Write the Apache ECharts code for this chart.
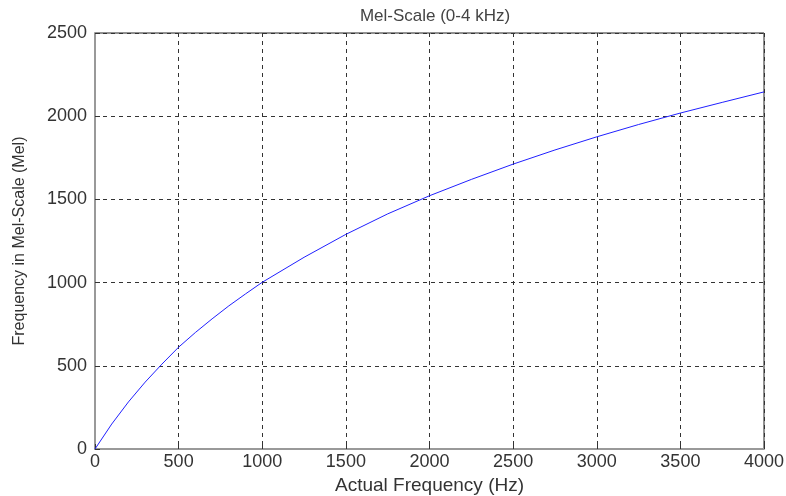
<!DOCTYPE html>
<html>
<head>
<meta charset="utf-8">
<script src="https://cdn.jsdelivr.net/npm/echarts@6/dist/echarts.min.js"></script>
<style>html,body{margin:0;padding:0;background:#fff}#c{width:786px;height:496px}</style>
</head>
<body>
<div id="c"></div>
<script>
const freqHz = [0, 100, 200, 300, 400, 500, 600, 700, 800, 900, 1000, 1250, 1500, 1750, 2000, 2250, 2500, 2750, 3000, 3250, 3500, 3750, 4000];
const melValues = [0, 150, 283, 402, 510, 612, 700, 782, 860, 932, 1002, 1152, 1290, 1413, 1522, 1620, 1712, 1797, 1876, 1950, 2019, 2083, 2146];
const xTicks = [0, 500, 1000, 1500, 2000, 2500, 3000, 3500, 4000];
const yTicks = [0, 500, 1000, 1500, 2000, 2500];

const chart = echarts.init(document.getElementById('c'), null, {renderer: 'canvas'});
const font = 'Liberation Sans, Arial, sans-serif';
chart.setOption({
  animation: false,
  backgroundColor: '#fff',
  title: {
    text: 'Mel-Scale (0-4 kHz)',
    left: 430, top: 3, textAlign: 'center',
    textStyle: {fontFamily: font, fontSize: 17, fontWeight: 'normal', color: '#444'}
  },
  grid: {left: 95, right: 22, top: 33, bottom: 47, show: true, borderColor: '#222', borderWidth: 1, backgroundColor: '#fff', containLabel: false, outerBoundsMode: 'none'},
  xAxis: {
    type: 'value', min: xTicks[0], max: xTicks[xTicks.length - 1], interval: 500,
    name: 'Actual Frequency (Hz)', nameLocation: 'middle', nameGap: 26,
    nameTextStyle: {fontFamily: font, fontSize: 19, color: '#333'},
    axisLine: {show: true, lineStyle: {color: '#999', width: 2}},
    axisTick: {show: true, inside: true, length: 5, lineStyle: {color: '#333'}},
    axisLabel: {fontFamily: font, fontSize: 18, color: '#333', margin: 4, formatter: v => String(v)},
    splitLine: {show: true, lineStyle: {color: '#333', type: [4, 4], width: 1}}
  },
  yAxis: {
    type: 'value', min: yTicks[0], max: yTicks[yTicks.length - 1], interval: 500,
    name: 'Frequency in Mel-Scale (Mel)', nameLocation: 'middle', nameGap: 67, nameRotate: 90,
    nameTextStyle: {fontFamily: font, fontSize: 16, color: '#333'},
    axisLine: {show: true, lineStyle: {color: '#999', width: 2}},
    axisTick: {show: true, inside: true, length: 5, lineStyle: {color: '#333'}},
    axisLabel: {fontFamily: font, fontSize: 18, color: '#333', margin: 8, formatter: v => String(v)},
    splitLine: {show: true, lineStyle: {color: '#333', type: [4, 4], width: 1}}
  },
  series: [{
    type: 'line',
    data: freqHz.map((f, i) => [f, melValues[i]]),
    showSymbol: false, symbol: 'none',
    lineStyle: {color: '#2020ff', width: 1},
    smooth: false
  }]
});
</script>
</body>
</html>
